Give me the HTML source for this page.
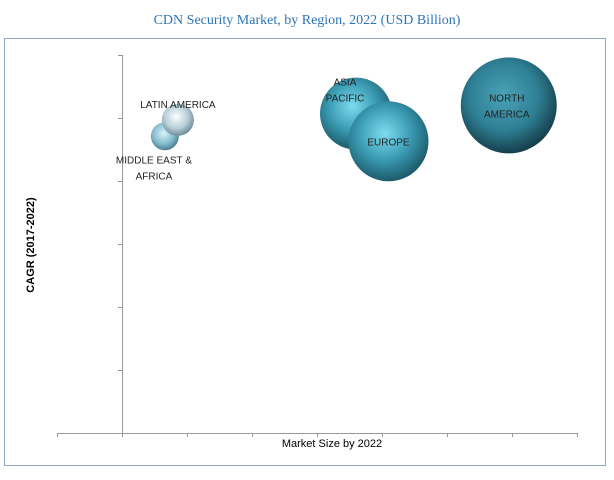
<!DOCTYPE html>
<html><head><meta charset="utf-8"><style>
body{margin:0;background:#fff;width:614px;height:475px;overflow:hidden;font-family:"Liberation Sans",sans-serif}
</style></head><body>
<svg width="614" height="475">
<defs>
<radialGradient id="gt" cx="0.45" cy="0.4" r="0.6"><stop offset="0" stop-color="#7fdcef"/><stop offset="0.55" stop-color="#3a9bb3"/><stop offset="1" stop-color="#1d5a6a"/></radialGradient>
<radialGradient id="gn" cx="0.45" cy="0.4" r="0.6"><stop offset="0" stop-color="#4aa3b8"/><stop offset="0.6" stop-color="#2e7f94"/><stop offset="1" stop-color="#163f4c"/></radialGradient>
<radialGradient id="gl" cx="0.45" cy="0.4" r="0.6"><stop offset="0" stop-color="#ffffff"/><stop offset="0.6" stop-color="#b7cfd8"/><stop offset="1" stop-color="#6f8d98"/></radialGradient>
<radialGradient id="gm" cx="0.45" cy="0.4" r="0.6"><stop offset="0" stop-color="#d8f2fa"/><stop offset="0.6" stop-color="#88bfd0"/><stop offset="1" stop-color="#4d7f90"/></radialGradient>
</defs>
<text x="307" y="24" text-anchor="middle" font-family="Liberation Serif, serif" font-size="14" fill="#2e74b5">CDN Security Market, by Region, 2022 (USD Billion)</text>
<rect x="4.5" y="38.5" width="601" height="427" fill="none" stroke="#8ea9c8"/>
<g id="axes"></g>
<g id="bubbles"></g>
<text x="332" y="447" text-anchor="middle" font-size="11" fill="#000">Market Size by 2022</text>
<text transform="translate(34,245) rotate(-90)" text-anchor="middle" font-size="11" font-weight="bold" fill="#000">CAGR (2017-2022)</text>
</svg>
<script>
const regions=["LATIN AMERICA","MIDDLE EAST & AFRICA","ASIA PACIFIC","EUROPE","NORTH AMERICA"];
const marketSize=[0.86,0.66,3.6,4.1,5.95];
const cagr=[4.97,4.71,5.07,4.63,5.2];
const bubbleSize=[16,14,36,40,48];
const xTicks=[-1,0,1,2,3,4,5,6,7];
const yTicks=[0,1,2,3,4,5,6];
const X=v=>122+v*65, Y=v=>433-v*63;
const ns="http://www.w3.org/2000/svg";
const ax=document.getElementById('axes');
function mk(t,a,p){const e=document.createElementNS(ns,t);for(const k in a)e.setAttribute(k,a[k]);p.appendChild(e);return e;}
let l=mk('line',{x1:X(-1),x2:X(7),y1:433.5,y2:433.5,stroke:'#999'},ax);


l=mk('line',{x1:122.5,x2:122.5,y1:Y(6),y2:433,stroke:'#999'},ax);


xTicks.forEach(t=>{const e=mk('line',{x1:X(t)+.5,x2:X(t)+.5,y1:433,y2:437,stroke:'#999'},ax);

});
yTicks.forEach(t=>{const e=mk('line',{x1:118,x2:122,y1:Y(t)+.5,y2:Y(t)+.5,stroke:'#999'},ax);

});
const fills=['url(#gl)','url(#gm)','url(#gt)','url(#gt)','url(#gn)'];
const order=[1,0,2,3,4];
const bg=document.getElementById('bubbles');
order.forEach(i=>{const c=mk('circle',{cx:X(marketSize[i]),cy:Y(cagr[i]),r:bubbleSize[i],fill:fills[i]},bg);

});
const labels=[[["LATIN AMERICA"],0,-12],[["MIDDLE EAST &","AFRICA"],-11,27],[["ASIA","PACIFIC"],-11,-28],[["EUROPE"],0,4],[["NORTH","AMERICA"],-2,-4]];
labels.forEach((lb,i)=>{lb[0].forEach((s,j)=>{const t=mk('text',{x:X(marketSize[i])+lb[1],y:Y(cagr[i])+lb[2]+j*16,'text-anchor':'middle','font-size':'10',fill:'#222'},bg);
t.textContent=s;

});});
</script>
</body></html>
